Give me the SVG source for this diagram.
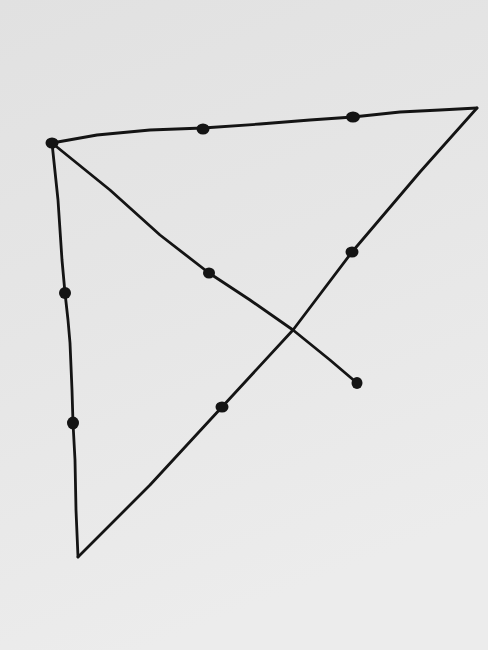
<svg xmlns="http://www.w3.org/2000/svg" width="488" height="650" viewBox="0 0 488 650">
<defs>
<linearGradient id="paper" x1="0" y1="0" x2="0.3" y2="1">
<stop offset="0" stop-color="#e1e1e1"/>
<stop offset="0.5" stop-color="#e6e6e6"/>
<stop offset="1" stop-color="#ececec"/>
</linearGradient>
<style>
.ln{fill:none;stroke:#141414;stroke-width:2.8;stroke-linecap:round;stroke-linejoin:round}
.dot{fill:#141414}
</style>
</defs>
<rect width="488" height="650" fill="url(#paper)"/>
<g id="connectors">
<path class="ln" d="M52,143 L97,135 L150,130 L203,128 L260,124 L310,120 L353,117 L400,112 L440,110 L477,108"/>
<path class="ln" d="M477,108 L420,172 L352,252 L293,330 L222,407 L150,485 L78,557"/>
<path class="ln" d="M52,143 L58,200 L62,260 L65,293 L68,320 L70,343 L72,390 L73,423 L75,460 L76,510 L78,557"/>
<path class="ln" d="M52,143 L110,190 L160,235 L209,273 L250,300 L293,330 L330,360 L357,383"/>
</g>
<g id="n1"><ellipse class="dot" cx="52" cy="143" rx="6.5" ry="5.5"/></g>
<g id="n2"><ellipse class="dot" cx="203" cy="129" rx="6.5" ry="5.5"/></g>
<g id="n3"><ellipse class="dot" cx="353" cy="117" rx="7" ry="5.5"/></g>
<g id="n4"><ellipse class="dot" cx="352" cy="252" rx="6.5" ry="5.5"/></g>
<g id="n5"><ellipse class="dot" cx="209" cy="273" rx="6" ry="5.5"/></g>
<g id="n6"><ellipse class="dot" cx="65" cy="293" rx="6" ry="6"/></g>
<g id="n7"><ellipse class="dot" cx="357" cy="383" rx="5.5" ry="6"/></g>
<g id="n8"><ellipse class="dot" cx="222" cy="407" rx="6.5" ry="5.5"/></g>
<g id="n9"><ellipse class="dot" cx="73" cy="423" rx="6" ry="6.5"/></g>
</svg>
